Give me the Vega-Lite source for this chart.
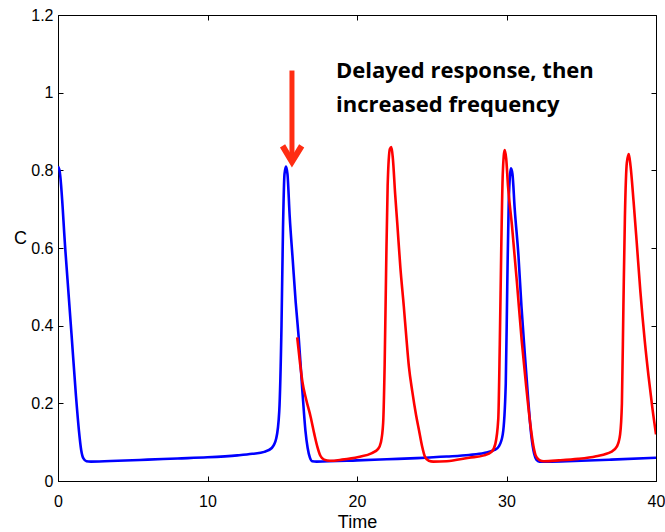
{
  "$schema": "https://vega.github.io/schema/vega-lite/v6.json",
  "width": 598,
  "height": 466,
  "autosize": {"type": "none"},
  "padding": {"left": 58, "top": 15, "right": 9, "bottom": 51},
  "background": "white",
  "config": {
    "view": {"stroke": "#000", "strokeWidth": 1},
    "axis": {"grid": false, "domainColor": "#000", "tickColor": "#000", "labelColor": "#000", "titleColor": "#000", "labelFont": "Liberation Sans", "titleFont": "Liberation Sans", "titleFontWeight": "normal"}
  },
  "datasets": {
    "blue": [
      {"t": 0, "C": 0.81}, {"t": 0.1, "C": 0.8}, {"t": 0.5, "C": 0.59}, {"t": 0.9, "C": 0.38},
      {"t": 1.2, "C": 0.22}, {"t": 1.4, "C": 0.13}, {"t": 1.55, "C": 0.08}, {"t": 1.7, "C": 0.058},
      {"t": 1.9, "C": 0.051}, {"t": 2.2, "C": 0.05}, {"t": 4, "C": 0.052}, {"t": 6, "C": 0.055},
      {"t": 8, "C": 0.058}, {"t": 10, "C": 0.061}, {"t": 12, "C": 0.066}, {"t": 13, "C": 0.07},
      {"t": 13.8, "C": 0.075}, {"t": 14.3, "C": 0.085}, {"t": 14.6, "C": 0.11}, {"t": 14.8, "C": 0.18},
      {"t": 14.95, "C": 0.4}, {"t": 15.05, "C": 0.65}, {"t": 15.15, "C": 0.79}, {"t": 15.25, "C": 0.81},
      {"t": 15.35, "C": 0.79}, {"t": 15.5, "C": 0.68}, {"t": 15.7, "C": 0.57}, {"t": 15.9, "C": 0.46},
      {"t": 16.1, "C": 0.37}, {"t": 16.35, "C": 0.23}, {"t": 16.55, "C": 0.13}, {"t": 16.7, "C": 0.085},
      {"t": 16.85, "C": 0.06}, {"t": 17.0, "C": 0.051}, {"t": 17.3, "C": 0.05}, {"t": 20, "C": 0.053},
      {"t": 22, "C": 0.056}, {"t": 24, "C": 0.059}, {"t": 26, "C": 0.063}, {"t": 27.5, "C": 0.067},
      {"t": 28.5, "C": 0.072}, {"t": 29.2, "C": 0.08}, {"t": 29.5, "C": 0.09}, {"t": 29.75, "C": 0.12},
      {"t": 29.95, "C": 0.25}, {"t": 30.05, "C": 0.5}, {"t": 30.15, "C": 0.72}, {"t": 30.3, "C": 0.805},
      {"t": 30.4, "C": 0.79}, {"t": 30.55, "C": 0.7}, {"t": 30.8, "C": 0.58}, {"t": 31.0, "C": 0.45},
      {"t": 31.24, "C": 0.32}, {"t": 31.45, "C": 0.21}, {"t": 31.65, "C": 0.12}, {"t": 31.85, "C": 0.07},
      {"t": 32.0, "C": 0.055}, {"t": 32.2, "C": 0.05}, {"t": 33, "C": 0.05}, {"t": 35, "C": 0.052},
      {"t": 37, "C": 0.055}, {"t": 40, "C": 0.06}
    ],
    "red": [
      {"t": 16.0, "C": 0.37}, {"t": 16.2, "C": 0.3}, {"t": 16.35, "C": 0.255}, {"t": 16.6, "C": 0.21},
      {"t": 16.9, "C": 0.165}, {"t": 17.15, "C": 0.12}, {"t": 17.35, "C": 0.088}, {"t": 17.55, "C": 0.065},
      {"t": 17.8, "C": 0.055}, {"t": 18.2, "C": 0.052}, {"t": 19, "C": 0.055}, {"t": 20.1, "C": 0.062},
      {"t": 21.0, "C": 0.072}, {"t": 21.4, "C": 0.082}, {"t": 21.6, "C": 0.1}, {"t": 21.75, "C": 0.15},
      {"t": 21.85, "C": 0.3}, {"t": 21.95, "C": 0.55}, {"t": 22.05, "C": 0.76}, {"t": 22.2, "C": 0.855},
      {"t": 22.3, "C": 0.86}, {"t": 22.4, "C": 0.83}, {"t": 22.55, "C": 0.74}, {"t": 22.7, "C": 0.66},
      {"t": 22.9, "C": 0.55}, {"t": 23.13, "C": 0.45}, {"t": 23.3, "C": 0.37}, {"t": 23.47, "C": 0.295},
      {"t": 23.7, "C": 0.23}, {"t": 23.95, "C": 0.17}, {"t": 24.15, "C": 0.13}, {"t": 24.35, "C": 0.09},
      {"t": 24.55, "C": 0.062}, {"t": 24.8, "C": 0.052}, {"t": 25.1, "C": 0.05}, {"t": 26, "C": 0.051},
      {"t": 27.5, "C": 0.06}, {"t": 28.5, "C": 0.066}, {"t": 29.0, "C": 0.075}, {"t": 29.25, "C": 0.095},
      {"t": 29.45, "C": 0.16}, {"t": 29.55, "C": 0.35}, {"t": 29.65, "C": 0.6}, {"t": 29.75, "C": 0.79},
      {"t": 29.88, "C": 0.852}, {"t": 29.98, "C": 0.83}, {"t": 30.1, "C": 0.76}, {"t": 30.36, "C": 0.66},
      {"t": 30.7, "C": 0.51}, {"t": 31.02, "C": 0.36}, {"t": 31.3, "C": 0.25}, {"t": 31.58, "C": 0.15},
      {"t": 31.8, "C": 0.09}, {"t": 31.95, "C": 0.066}, {"t": 32.2, "C": 0.054}, {"t": 32.5, "C": 0.051},
      {"t": 33.5, "C": 0.053}, {"t": 34.8, "C": 0.057}, {"t": 36, "C": 0.064}, {"t": 37.0, "C": 0.075},
      {"t": 37.4, "C": 0.09}, {"t": 37.6, "C": 0.12}, {"t": 37.72, "C": 0.2}, {"t": 37.82, "C": 0.45},
      {"t": 37.92, "C": 0.68}, {"t": 38.05, "C": 0.82}, {"t": 38.18, "C": 0.842}, {"t": 38.3, "C": 0.81},
      {"t": 38.5, "C": 0.72}, {"t": 38.7, "C": 0.62}, {"t": 38.95, "C": 0.49}, {"t": 39.25, "C": 0.36},
      {"t": 39.5, "C": 0.27}, {"t": 39.75, "C": 0.19}, {"t": 40.0, "C": 0.12}
    ],
    "arrowShaft": [{"t": 15.65, "top": 1.057, "bottom": 0.835}],
    "arrowHead": [{"t": 15.02, "C": 0.863}, {"t": 15.65, "C": 0.822}, {"t": 16.3, "C": 0.863}],
    "notes": [
      {"t": 18.6, "C": 1.038, "label": "Delayed response, then"},
      {"t": 18.6, "C": 0.951, "label": "increased frequency"}
    ]
  },
  "layer": [
    {
      "data": {"name": "blue"},
      "mark": {"type": "line", "color": "#0000ff", "strokeWidth": 2.6, "interpolate": "monotone", "clip": true},
      "encoding": {
        "x": {"field": "t", "type": "quantitative", "scale": {"domain": [0, 40], "nice": false},
          "axis": {"orient": "bottom", "values": [0, 10, 20, 30, 40], "title": "Time", "titleFontSize": 18, "titleBaseline": "alphabetic", "titleY": 46, "labelFontSize": 16, "tickSize": -5, "labelPadding": 17, "labelFlush": false, "labelOverlap": false}},
        "y": {"field": "C", "type": "quantitative", "scale": {"domain": [0, 1.2], "nice": false},
          "axis": {"orient": "left", "values": [0, 0.2, 0.4, 0.6, 0.8, 1, 1.2], "format": "~g", "title": "C", "titleAngle": 0, "titleFontSize": 18, "titleAlign": "center", "titleBaseline": "alphabetic", "titleX": -38, "titleY": 228, "labelFontSize": 16, "tickSize": -5, "labelPadding": 10, "labelFlush": false, "labelOverlap": false}}
      }
    },
    {
      "data": {"name": "red"},
      "mark": {"type": "line", "color": "#ff0000", "strokeWidth": 2.6, "interpolate": "monotone", "clip": true},
      "encoding": {
        "x": {"field": "t", "type": "quantitative",
          "axis": {"orient": "top", "values": [0, 10, 20, 30, 40], "labels": false, "title": null, "tickSize": -5, "domain": false}},
        "y": {"field": "C", "type": "quantitative",
          "axis": {"orient": "right", "values": [0, 0.2, 0.4, 0.6, 0.8, 1, 1.2], "labels": false, "title": null, "tickSize": -5, "domain": false}}
      }
    },
    {
      "data": {"name": "arrowShaft"},
      "mark": {"type": "rule", "color": "#ff2d12", "strokeWidth": 5},
      "encoding": {
        "x": {"field": "t", "type": "quantitative", "axis": null},
        "y": {"field": "top", "type": "quantitative", "axis": null},
        "y2": {"field": "bottom"}
      }
    },
    {
      "data": {"name": "arrowHead"},
      "mark": {"type": "line", "color": "#ff2d12", "strokeWidth": 6, "strokeJoin": "miter", "strokeCap": "butt"},
      "encoding": {
        "x": {"field": "t", "type": "quantitative", "axis": null},
        "y": {"field": "C", "type": "quantitative", "axis": null}
      }
    },
    {
      "data": {"name": "notes"},
      "mark": {"type": "text", "align": "left", "baseline": "alphabetic", "font": "Open Sans", "fontWeight": "bold", "fontSize": 22, "color": "#000"},
      "encoding": {
        "x": {"field": "t", "type": "quantitative", "axis": null},
        "y": {"field": "C", "type": "quantitative", "axis": null},
        "text": {"field": "label"}
      }
    }
  ]
}
